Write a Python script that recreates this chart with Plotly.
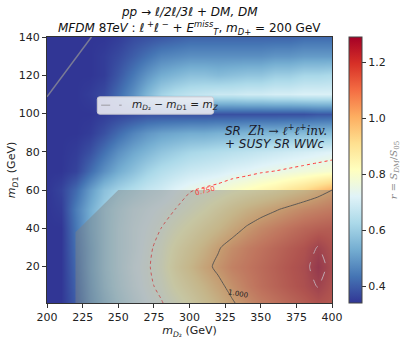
import plotly.graph_objects as go

# ---- data ----
x_mD2 = [200, 210, 220, 230, 240, 250, 260, 270, 280, 290, 300,
         310, 320, 330, 340, 350, 360, 370, 380, 390, 400]
y_mD1 = [1, 10, 20, 30, 40, 50, 60, 70, 80, 90, 100, 110, 120, 130, 140]

r_y1   = [.34,.34,.40,.50,.57,.63,.68,.72,.745,.78,.83,.88,.93,.99,1.04,1.08,1.11,1.14,1.17,1.20,1.18]
r_y10  = [.34,.34,.41,.51,.59,.65,.70,.735,.765,.82,.87,.92,.975,1.03,1.08,1.12,1.15,1.18,1.21,1.255,1.20]
r_y20  = [.34,.34,.42,.52,.60,.66,.71,.74,.78,.85,.91,.97,1.02,1.07,1.10,1.13,1.16,1.19,1.22,1.29,1.22]
r_y30  = [.34,.34,.43,.52,.60,.66,.70,.735,.77,.83,.88,.93,.99,1.04,1.08,1.11,1.14,1.17,1.20,1.255,1.20]
r_y40  = [.34,.34,.44,.53,.60,.66,.70,.725,.75,.79,.83,.87,.91,.96,1.01,1.05,1.08,1.11,1.14,1.16,1.17]
r_y50  = [.34,.35,.45,.53,.60,.65,.69,.71,.73,.75,.78,.81,.85,.89,.93,.96,.99,1.02,1.05,1.07,1.09]
r_y60  = [.34,.36,.42,.50,.57,.61,.64,.67,.69,.72,.745,.76,.775,.80,.82,.84,.86,.89,.92,.96,1.00]
r_y70  = [.34,.34,.36,.42,.48,.53,.57,.61,.64,.66,.68,.69,.70,.715,.725,.74,.75,.76,.77,.78,.79]
r_y80  = [.34,.34,.35,.38,.43,.48,.52,.55,.58,.60,.62,.63,.64,.65,.66,.67,.68,.69,.70,.71,.72]
r_y90  = [.34,.34,.34,.35,.38,.42,.46,.49,.51,.52,.53,.53,.54,.54,.55,.55,.55,.56,.56,.56,.57]
r_y100 = [.34,.34,.34,.34,.35,.36,.37,.38,.38,.38,.38,.38,.38,.38,.38,.38,.38,.38,.38,.39,.39]
r_y110 = [.34,.34,.34,.35,.37,.42,.48,.55,.61,.64,.66,.67,.68,.68,.69,.69,.70,.70,.71,.71,.71]
r_y120 = [.34,.34,.34,.34,.35,.39,.44,.49,.53,.55,.57,.57,.56,.57,.58,.58,.60,.60,.62,.62,.63]
r_y130 = [.34,.34,.34,.34,.35,.37,.40,.43,.46,.47,.48,.48,.48,.48,.48,.48,.49,.49,.50,.50,.50]
r_y140 = [.34,.34,.34,.34,.34,.35,.37,.38,.39,.40,.41,.41,.41,.41,.41,.41,.41,.41,.42,.42,.42]
r_ratio = [r_y1, r_y10, r_y20, r_y30, r_y40, r_y50, r_y60, r_y70,
           r_y80, r_y90, r_y100, r_y110, r_y120, r_y130, r_y140]

# region covered by SUSY SR WWc (shaded)
overlay_x = [220, 220, 250, 400, 400, 220]
overlay_y = [1, 38, 60, 60, 1, 1]

m_Z = 91.19
line_x = [200, 140 + m_Z]
line_y = [x - m_Z for x in line_x]

x_ticks = [200, 225, 250, 275, 300, 325, 350, 375, 400]
y_ticks = [20, 40, 60, 80, 100, 120, 140]
cbar_ticks = [0.4, 0.6, 0.8, 1.0, 1.2]
z_min, z_max = 0.34, 1.29

FONT = "DejaVu Sans"

fig = go.Figure()

fig.add_trace(go.Heatmap(
    x=x_mD2, y=y_mD1, z=r_ratio, zsmooth="best",
    colorscale="RdYlBu_r", zmin=z_min, zmax=z_max,
    hoverinfo="skip",
    colorbar=dict(
        x=1.06, xanchor="left", xpad=0, y=0.5, yanchor="middle", ypad=0,
        len=1.0, lenmode="fraction", thickness=13,
        outlinewidth=1, outlinecolor="#444",
        tickvals=cbar_ticks, ticktext=[f"{v:.1f}" for v in cbar_ticks],
        ticks="outside", ticklen=4, tickcolor="#333",
        tickfont=dict(family=FONT, size=11, color="#222"),
        title=dict(text="<i>r</i> = <i>S</i><sub><i>DM</i></sub>/<i>S</i><sub>05</sub>",
                   side="right", font=dict(family="DejaVu Serif", size=10, color="#888")),
    ),
))

fig.add_trace(go.Scatter(
    x=overlay_x, y=overlay_y, mode="lines", fill="toself",
    fillcolor="rgba(128,128,128,0.45)", line=dict(width=0),
    showlegend=False, hoverinfo="skip"))

fig.add_trace(go.Scatter(
    x=line_x, y=line_y, mode="lines",
    line=dict(color="rgba(140,140,150,0.8)", width=1.5),
    showlegend=False, hoverinfo="skip"))


def contour_line(level, color, dash, width):
    return go.Contour(
        x=x_mD2, y=y_mD1, z=r_ratio, autocontour=False,
        contours=dict(start=level, end=level, size=1, coloring="lines", showlabels=False),
        colorscale=[[0, color], [1, color]], showscale=False,
        line=dict(dash=dash, width=width, smoothing=0.6),
        hoverinfo="skip", showlegend=False)


fig.add_trace(contour_line(0.75, "#ff3b3b", "dot", 1.0))
fig.add_trace(contour_line(1.0, "#2a2a2a", "solid", 0.9))
fig.add_trace(contour_line(1.25, "#f2c8d8", "dash", 1.0))

# hand-built legend box (rounded)
lx0, lx1, ly0, ly1, rr = 0.1765, 0.5846, 0.710, 0.775, 0.008
legend_path = (f"M {lx0+rr},{ly0} L {lx1-rr},{ly0} Q {lx1},{ly0} {lx1},{ly0+rr*1.07} "
               f"L {lx1},{ly1-rr*1.07} Q {lx1},{ly1} {lx1-rr},{ly1} L {lx0+rr},{ly1} "
               f"Q {lx0},{ly1} {lx0},{ly1-rr*1.07} L {lx0},{ly0+rr*1.07} Q {lx0},{ly0} {lx0+rr},{ly0} Z")
shapes = [
    dict(type="path", xref="paper", yref="paper", path=legend_path,
         fillcolor="rgba(238,238,244,0.88)", line=dict(color="#c8c8d0", width=1)),
    dict(type="line", xref="paper", yref="paper", x0=0.19, x1=0.262, y0=0.743, y1=0.743,
         line=dict(color="rgba(175,175,185,1)", width=1.5, dash="dash")),
]

annotations = [
    dict(text="<i>pp</i> → <i>ℓ/2ℓ/3ℓ + DM, DM</i>", xref="paper", yref="paper",
         x=0.5, y=1.094, xanchor="center", yanchor="middle", showarrow=False,
         font=dict(family=FONT, size=12, color="#111")),
    dict(text="<i>MFDM</i> 8<i>TeV</i> : <i>ℓ</i><sup> +</sup><i>ℓ</i><sup> −</sup> + <i>E</i><sup><i>miss</i></sup><sub><i>T</i></sub>, <i>m</i><sub><i>D</i>+</sub> = 200 GeV",
         xref="paper", yref="paper", x=0.5, y=1.034, xanchor="center", yanchor="middle",
         showarrow=False, font=dict(family=FONT, size=12, color="#111")),
    dict(text="<i>m</i><sub><i>D</i>₂</sub> − <i>m</i><sub><i>D</i>1</sub> = <i>m</i><sub><i>Z</i></sub>",
         xref="paper", yref="paper", x=0.292, y=0.745, xanchor="left", yanchor="middle",
         showarrow=False, font=dict(family=FONT, size=10.5, color="#222")),
    dict(text="<i>SR</i>  <span style='font-family:DejaVu Serif'><i>Zh</i> → <i>ℓ</i><sup>+</sup><i>ℓ</i><sup>+</sup><i>inv.</i></span>",
         x=323.5, y=91.5, xanchor="left", yanchor="middle", showarrow=False,
         font=dict(family=FONT, size=12, color="#1a1a2a")),
    dict(text="<i>+ SUSY SR WWc</i>", x=323.5, y=84, xanchor="left", yanchor="middle",
         showarrow=False, font=dict(family=FONT, size=12, color="#1a1a2a")),
    dict(text="0.750", x=311, y=59.5, showarrow=False, textangle=-15,
         font=dict(family=FONT, size=7, color="#ff3b3b")),
    dict(text="1.000", x=334, y=5.7, showarrow=False, textangle=10,
         font=dict(family=FONT, size=7, color="#222")),
]

axis_common = dict(showline=True, mirror=True, linecolor="#333", linewidth=1,
                   ticks="outside", ticklen=4, tickcolor="#333", showgrid=False,
                   zeroline=False, automargin=False,
                   tickfont=dict(family=FONT, size=11, color="#222"))

fig.update_layout(
    width=407, height=341,
    margin=dict(l=47, r=75, t=37, b=38, autoexpand=False),
    paper_bgcolor="white", plot_bgcolor="white",
    font=dict(family=FONT, size=11, color="#222"),
    showlegend=False,
    xaxis=dict(range=[200, 400], tickvals=x_ticks,
               title=dict(text="<i>m</i><sub><i>D</i>₂</sub> (GeV)", standoff=1,
                          font=dict(family=FONT, size=11)),
               **axis_common),
    yaxis=dict(range=[1, 140], tickvals=y_ticks,
               title=dict(text="<i>m</i><sub><i>D</i>1</sub> (GeV)", standoff=0,
                          font=dict(family=FONT, size=11)),
               **axis_common),
    shapes=shapes,
    annotations=annotations,
)

fig.write_html("out.html", config={"displayModeBar": False, "staticPlot": True},
               post_script="document.body.style.margin='0';document.body.style.padding='0';")
